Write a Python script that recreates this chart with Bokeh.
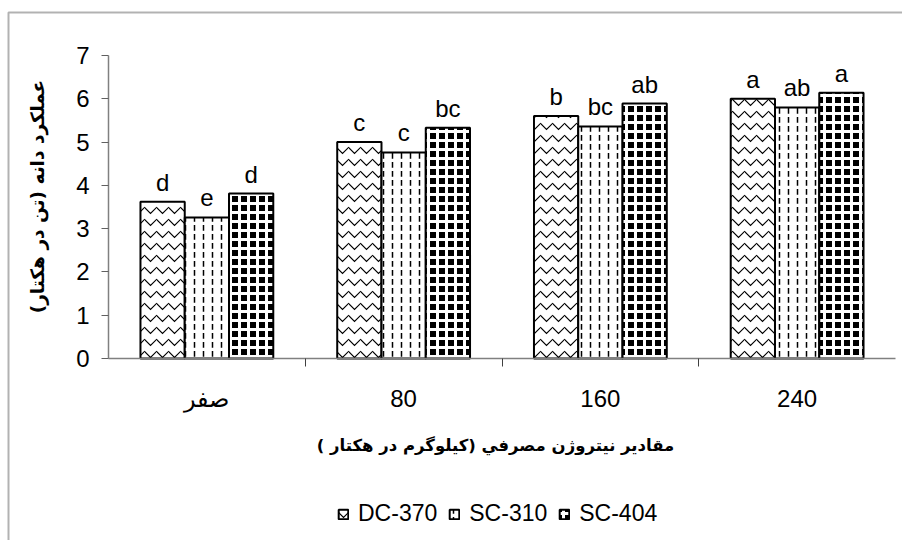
import math
from bokeh.plotting import figure
from bokeh.models import (Range1d, FixedTicker, ColumnDataSource, LabelSet, Legend,
                          LegendItem, BoxAnnotation, Label)
from bokeh.transform import dodge
from bokeh.core.properties import value
from bokeh.embed import file_html
from bokeh.resources import INLINE

# ---------------- data ----------------
categories = ["صفر", "80", "160", "240"]
hybrids = ["DC-370", "SC-310", "SC-404"]
dc370 = [3.62, 5.00, 5.60, 6.00]
sc310 = [3.26, 4.76, 5.36, 5.80]
sc404 = [3.81, 5.33, 5.89, 6.14]
dc370_letters = ["d", "c", "b", "a"]
sc310_letters = ["e", "c", "bc", "ab"]
sc404_letters = ["d", "bc", "ab", "a"]
y_ticks = [0, 1, 2, 3, 4, 5, 6, 7]
y_title = "عملكرد دانه (تن در هكتار)"
x_title = "مقادير نيتروژن مصرفي (كيلوگرم در هكتار )"

xc = [i + 0.5 for i in range(len(categories))]
src = ColumnDataSource(dict(xc=xc, dc370=dc370, sc310=sc310, sc404=sc404,
                            l_dc370=dc370_letters, l_sc310=sc310_letters,
                            l_sc404=sc404_letters))

FONT = "Liberation Sans"
AR_FONT = "DejaVu Sans"
RLM = "\u200f"

# ---------------- layout (pixels of the 902x540 canvas) ----------------
W, H = 902, 540
AX_LEFT, AX_RIGHT = 108, 895      # x-axis extent in pixels
AX_TOP, AX_BOTTOM = 55, 358       # y=7 and y=0 in pixels
y_max = y_ticks[-1]
ppx = (AX_RIGHT - AX_LEFT) / len(categories)
ppy = (AX_BOTTOM - AX_TOP) / y_max
x_rng = Range1d(-AX_LEFT / ppx, len(categories) + (W - AX_RIGHT) / ppx)
y_rng = Range1d(-(H - AX_BOTTOM) / ppy, y_max + AX_TOP / ppy)

def px_x(px):
    return (px - AX_LEFT) / ppx

def px_y(py):
    return (AX_BOTTOM - py) / ppy

p = figure(width=W, height=H, x_range=x_rng, y_range=y_rng,
           output_backend="svg", toolbar_location=None, title=None,
           min_border_left=0, min_border_right=0, min_border_top=0,
           min_border_bottom=0)
p.outline_line_color = None
p.xgrid.visible = False
p.ygrid.visible = False
p.background_fill_color = "white"
p.border_fill_color = "white"

w = 0.225
offsets = [-w, 0.0, w]
cols = ["dc370", "sc310", "sc404"]
styles = [
    dict(fill_color="white", hatch_pattern="v", hatch_color="black",
         hatch_scale=12, hatch_weight=1.2),
    dict(fill_color="white", hatch_pattern=":", hatch_color="black",
         hatch_scale=9, hatch_weight=1.5),
    dict(fill_color="black", hatch_pattern="+", hatch_color="white",
         hatch_scale=9, hatch_weight=3),
]
renderers = []
for col, off, st in zip(cols, offsets, styles):
    r = p.vbar(x=dodge("xc", off, range=p.x_range), top=col, width=w, source=src,
               line_color="black", line_width=2, **st)
    renderers.append(r)
    lbl = LabelSet(x=dodge("xc", off, range=p.x_range), y=col, text="l_" + col,
                   source=src, y_offset=11, text_align="center",
                   text_baseline="alphabetic", text_font=value(FONT),
                   text_font_size="24px", text_color="black")
    p.add_layout(lbl)

# y axis
p.yaxis.fixed_location = 0
p.yaxis.bounds = (0, y_max)
p.yaxis.ticker = FixedTicker(ticks=y_ticks)
p.yaxis.axis_line_color = "#808080"
p.yaxis.axis_line_width = 1.5
p.yaxis.major_tick_line_color = "#606060"
p.yaxis.major_tick_out = 7
p.yaxis.major_tick_in = 0
p.yaxis.minor_tick_line_color = None
p.yaxis.major_label_text_font = FONT
p.yaxis.major_label_text_font_size = "24px"
p.yaxis.major_label_text_color = "black"
p.yaxis.major_label_standoff = 12

# x axis
p.xaxis.fixed_location = 0
p.xaxis.bounds = (0, len(categories))
p.xaxis.ticker = FixedTicker(ticks=xc, minor_ticks=[1, 2, 3])
p.xaxis.major_label_overrides = {xc[i]: categories[i] for i in range(len(categories))}
p.xaxis.axis_line_color = "#808080"
p.xaxis.axis_line_width = 1.5
p.xaxis.major_tick_line_color = None
p.xaxis.major_tick_out = 0
p.xaxis.major_tick_in = 0
p.xaxis.minor_tick_line_color = "#404040"
p.xaxis.minor_tick_out = 8
p.xaxis.minor_tick_in = 0
p.xaxis.major_label_text_font = FONT
p.xaxis.major_label_text_font_size = "24px"
p.xaxis.major_label_text_color = "black"
p.xaxis.major_label_standoff = 18

# axis titles
p.add_layout(Label(x=px_x(37), y=px_y(196), text=y_title + RLM, angle=math.pi / 2,
                   text_align="center", text_baseline="middle",
                   text_font=AR_FONT, text_font_style="bold",
                   text_font_size="18.5px", text_color="black"))
p.add_layout(Label(x=px_x(495), y=px_y(445), text=x_title + RLM,
                   text_align="center", text_baseline="middle",
                   text_font=AR_FONT, text_font_style="bold",
                   text_font_size="16.5px", text_color="black"))

legend = Legend(items=[LegendItem(label=h, renderers=[r]) for h, r in zip(hybrids, renderers)],
                orientation="horizontal", location=(337, 13),
                border_line_color=None, background_fill_alpha=0,
                padding=0, margin=0, spacing=11, label_standoff=9,
                glyph_width=12, glyph_height=12, label_height=24,
                label_text_font=FONT, label_text_font_size="23px",
                label_text_color="black")
p.add_layout(legend, "center")

outer = BoxAnnotation(left=8, right=W + 50, top=H - 12, bottom=-50,
                      left_units="screen", right_units="screen",
                      top_units="screen", bottom_units="screen",
                      fill_color=None, fill_alpha=0, line_color="black",
                      line_width=2)
p.add_layout(outer)

open("out.html", "w").write(file_html(p, INLINE))
